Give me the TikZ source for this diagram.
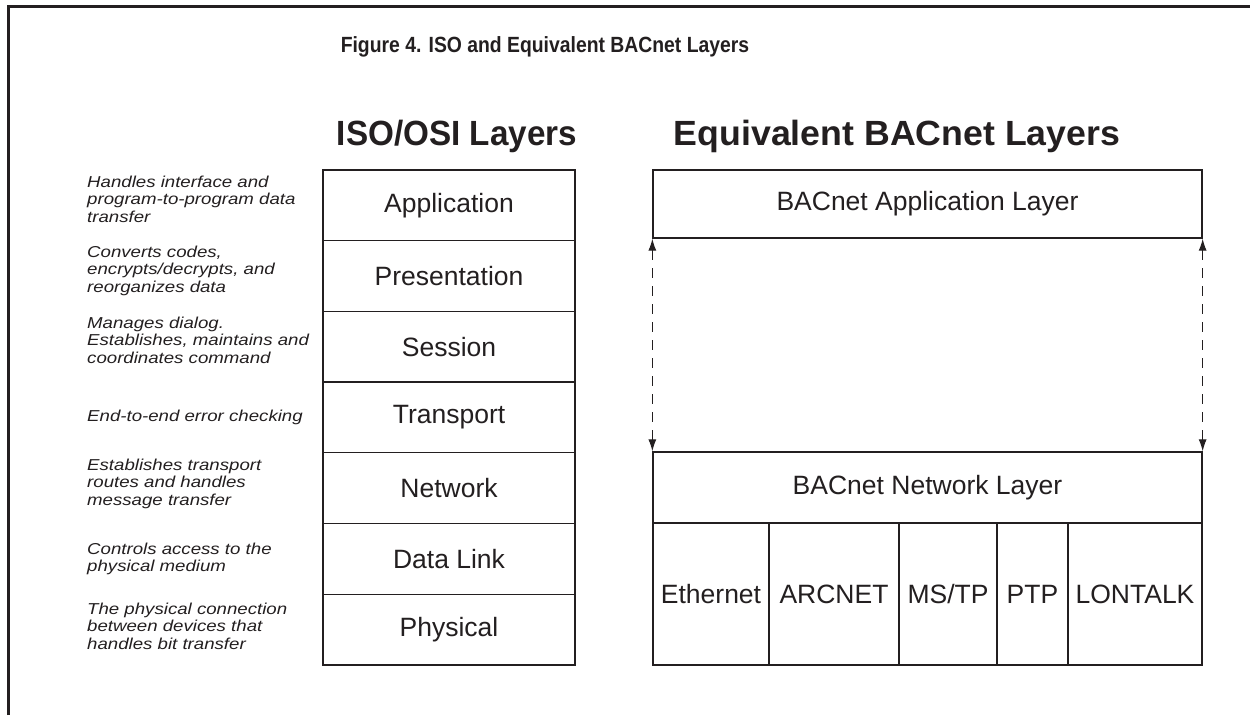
\documentclass[tikz,border=0pt]{standalone}
\usepackage{fontspec}
\setmainfont{Liberation Sans}
\newfontfamily\descfont[FakeStretch=1.18]{Liberation Sans}
\newfontfamily\condfont[FakeStretch=0.88]{Liberation Sans}
\newfontfamily\isofont[FakeStretch=0.95]{Liberation Sans}
\newfontfamily\bacfont[FakeStretch=1.02]{Liberation Sans}
\usetikzlibrary{arrows.meta}
\definecolor{ink}{HTML}{231F20}
\begin{document}
\begin{tikzpicture}[x=1pt,y=-1pt,
  layer/.style={draw=ink,line width=1.3pt,inner sep=0pt,text=ink,font=\fontsize{26.5}{30}\selectfont},
  desc/.style={anchor=north west,align=left,inner sep=0pt,text=ink,font=\descfont\fontsize{15.8}{17.8}\selectfont\itshape},
  head/.style={text=ink,inner sep=0pt},
  dasharrow/.style={draw=ink,line width=1.1pt,dash pattern=on 10pt off 8pt,{Latex[length=12pt,width=8pt]}-{Latex[length=12pt,width=8pt]}}]
\useasboundingbox (0,0) rectangle (1250,715);
\fill[white] (0,0) rectangle (1250,715);
% frame
\draw[ink,line width=3pt] (8,715) -- (8,6) -- (1250,6);
% title
\node[text=ink,inner sep=0pt,font=\condfont\fontsize{22}{25}\selectfont\bfseries] (title) at (545,47) {Figure 4. ISO and Equivalent BACnet Layers};
\node[head,font=\isofont\fontsize{35}{40}\selectfont\bfseries] (isohead) at (457,136) {ISO/OSI Layers};
\node[head,font=\bacfont\fontsize{35}{40}\selectfont\bfseries] (bachead) at (897,136) {Equivalent BACnet Layers};
% ISO stack
\foreach \n/\t [count=\i from 0] in {app/Application,pres/Presentation,sess/Session,trans/Transport,net/Network,dl/Data Link,phy/Physical}{
  \node[layer,minimum width=252pt,minimum height=70.7pt] (iso\n) at (449,{170+35.35+\i*70.7}) {\t};
}
% BACnet stack
\node[layer,minimum width=549pt,minimum height=68pt] (bapp) at (927.5,204) {BACnet Application Layer};
\node[layer,minimum width=549pt,minimum height=71pt] (bnet) at (927.5,487.5) {BACnet Network Layer};
\node[layer,minimum width=116pt,minimum height=142pt] (eth) at (711,594) {Ethernet};
\node[layer,minimum width=130pt,minimum height=142pt] (arc) at (834,594) {ARCNET};
\node[layer,minimum width=98pt,minimum height=142pt] (mstp) at (948,594) {MS/TP};
\node[layer,minimum width=71pt,minimum height=142pt] (ptp) at (1032.5,594) {PTP};
\node[layer,minimum width=134pt,minimum height=142pt] (lon) at (1135,594) {LONTALK};
% arrows
\draw[dasharrow] (bapp.south west) -- (bnet.north west);
\draw[dasharrow] (bapp.south east) -- (bnet.north east);
% descriptions
\node[desc] (d1) at (87,175.5) {Handles interface and\\program-to-program data\\transfer};
\node[desc] (d2) at (87,245.5) {Converts codes,\\encrypts/decrypts, and\\reorganizes data};
\node[desc] (d3) at (87,316.5) {Manages dialog.\\Establishes, maintains and\\coordinates command};
\node[desc] (d4) at (87,409.5) {End-to-end error checking};
\node[desc] (d5) at (87,458.5) {Establishes transport\\routes and handles\\message transfer};
\node[desc] (d6) at (87,542.5) {Controls access to the\\physical medium};
\node[desc] (d7) at (87,602.5) {The physical connection\\between devices that\\handles bit transfer};
\end{tikzpicture}
\end{document}
